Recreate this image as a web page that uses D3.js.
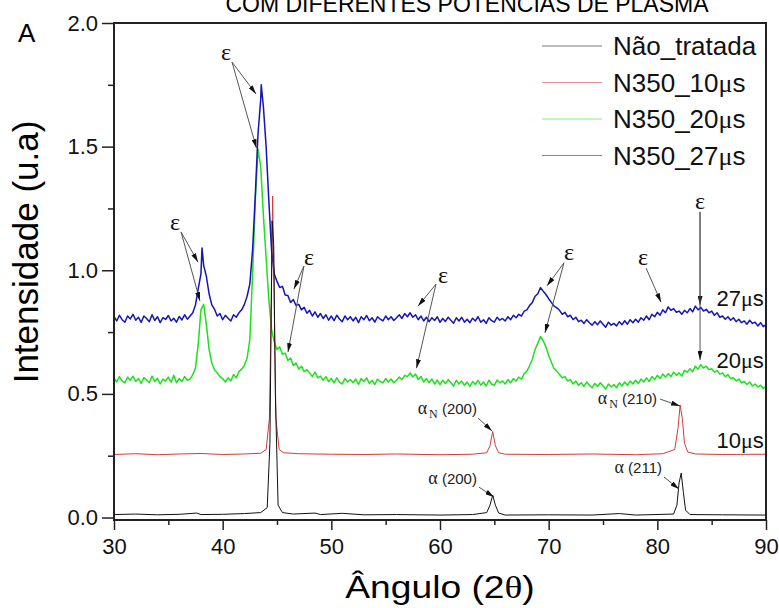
<!DOCTYPE html>
<html>
<head>
<meta charset="utf-8">
<script src="https://cdn.jsdelivr.net/npm/d3@7"></script>
<style>
  body { margin: 0; background: #fff; }
  svg { display: block; }
</style>
</head>
<body>
<div id="chart"></div>
<script>
// ---- dados ----
const angleStart = 30, angleStep = 0.25;   // grade das séries ruidosas

// N350_27µs, um valor a cada 0.25° de 30 a 90
const blue27 = [
  0.812,0.795,0.818,0.800, 0.790,0.815,0.803,0.822, 0.798,0.810,0.789,0.815,
  0.805,0.792,0.820,0.797, 0.812,0.788,0.808,0.801, 0.817,0.795,0.806,0.790,
  0.813,0.799,0.820,0.802, 0.815,0.828,0.860,0.925, 0.985,1.020,0.975,0.905,
  0.860,0.842,0.815,0.825, 0.800,0.818,0.806,0.795, 0.820,0.810,0.828,0.840,
  0.862,0.895,0.945,1.080, 1.300,1.550,1.690,1.660, 1.500,1.280,1.080,0.985,
  0.955,0.930,0.935,0.900, 0.898,0.870,0.882,0.858, 0.862,0.840,0.850,0.826,
  0.838,0.815,0.832,0.810, 0.825,0.805,0.820,0.798, 0.815,0.796,0.818,0.803,
  0.792,0.815,0.800,0.812, 0.795,0.810,0.788,0.812, 0.800,0.817,0.796,0.808,
  0.790,0.812,0.802,0.795, 0.815,0.800,0.812,0.797, 0.808,0.820,0.805,0.825,
  0.812,0.828,0.810,0.820, 0.800,0.815,0.795,0.810, 0.792,0.808,0.797,0.812,
  0.789,0.805,0.793,0.810, 0.798,0.786,0.808,0.795, 0.810,0.790,0.802,0.788,
  0.806,0.795,0.812,0.790, 0.800,0.785,0.808,0.796, 0.790,0.810,0.798,0.805,
  0.795,0.812,0.800,0.818, 0.808,0.822,0.815,0.835, 0.840,0.858,0.870,0.895,
  0.905,0.930,0.915,0.902, 0.885,0.870,0.855,0.848, 0.838,0.822,0.830,0.812,
  0.818,0.800,0.810,0.792, 0.798,0.785,0.800,0.788, 0.778,0.792,0.780,0.795,
  0.782,0.770,0.790,0.778, 0.785,0.775,0.792,0.780, 0.796,0.782,0.800,0.788,
  0.802,0.790,0.808,0.798, 0.815,0.800,0.822,0.812, 0.830,0.818,0.840,0.828,
  0.852,0.838,0.845,0.830, 0.835,0.822,0.838,0.828, 0.845,0.832,0.855,0.840,
  0.850,0.835,0.842,0.828, 0.835,0.818,0.828,0.810, 0.815,0.802,0.812,0.798,
  0.808,0.792,0.802,0.788, 0.795,0.782,0.798,0.785, 0.790,0.775,0.788,0.772,
  0.780
];
const blue27Spikes = [[38.1, 1.09], [43.55, 1.75]];

// N350_20µs
const green20 = [
  0.565,0.548,0.570,0.552, 0.545,0.568,0.555,0.572, 0.550,0.562,0.542,0.566,
  0.556,0.545,0.572,0.550, 0.563,0.540,0.560,0.552, 0.568,0.547,0.575,0.545,
  0.562,0.550,0.570,0.555, 0.560,0.578,0.605,0.700, 0.840,0.862,0.780,0.680,
  0.625,0.598,0.585,0.570, 0.562,0.548,0.565,0.552, 0.578,0.565,0.590,0.600,
  0.615,0.645,0.720,0.980, 1.280,1.490,1.420,1.220, 1.050,0.880,0.760,0.710,
  0.680,0.690,0.660,0.665, 0.635,0.645,0.615,0.625, 0.600,0.612,0.590,0.598,
  0.585,0.570,0.588,0.565, 0.572,0.555,0.570,0.550, 0.562,0.545,0.565,0.548,
  0.540,0.562,0.548,0.558, 0.545,0.560,0.538,0.562, 0.550,0.565,0.542,0.555,
  0.538,0.560,0.550,0.545, 0.562,0.548,0.560,0.545, 0.555,0.568,0.558,0.575,
  0.570,0.585,0.568,0.580, 0.558,0.570,0.548,0.562, 0.545,0.560,0.540,0.556,
  0.538,0.555,0.542,0.558, 0.545,0.532,0.555,0.540, 0.552,0.535,0.548,0.530,
  0.550,0.538,0.555,0.535, 0.548,0.532,0.555,0.540, 0.535,0.556,0.545,0.552,
  0.540,0.558,0.545,0.562, 0.552,0.568,0.560,0.582, 0.592,0.615,0.640,0.680,
  0.705,0.732,0.715,0.690, 0.655,0.628,0.602,0.592, 0.578,0.565,0.570,0.552,
  0.558,0.540,0.552,0.535, 0.545,0.530,0.548,0.535, 0.525,0.542,0.530,0.545,
  0.532,0.520,0.540,0.528, 0.538,0.525,0.545,0.532, 0.548,0.535,0.552,0.540,
  0.555,0.542,0.560,0.548, 0.565,0.550,0.570,0.558, 0.575,0.562,0.580,0.568,
  0.582,0.570,0.588,0.575, 0.585,0.572,0.595,0.588, 0.602,0.590,0.612,0.600,
  0.618,0.605,0.612,0.598, 0.602,0.588,0.595,0.580, 0.585,0.570,0.578,0.562,
  0.565,0.552,0.560,0.545, 0.550,0.538,0.548,0.532, 0.540,0.528,0.535,0.522,
  0.530
];

// N350_10µs [ângulo, intensidade]
const red10 = [
  [30,0.255],[32,0.258],[34,0.254],[36,0.257],[38,0.259],[40,0.255],[42,0.257],
  [43.5,0.26],[44.0,0.275],[44.3,0.40],[44.5,0.95],[44.6,1.30],[44.7,1.00],
  [44.9,0.40],[45.2,0.275],[45.6,0.262],[47,0.258],[50,0.256],[53,0.255],
  [56,0.257],[60,0.254],[63,0.256],[64.3,0.262],[64.6,0.29],[64.85,0.348],
  [65.1,0.29],[65.4,0.262],[66,0.256],[70,0.255],[74,0.257],[78,0.254],
  [80.5,0.258],[81.6,0.275],[81.9,0.36],[82.1,0.455],[82.3,0.40],[82.5,0.30],
  [82.8,0.265],[83.5,0.257],[86,0.255],[90,0.256]
];

// Não_tratada
const black0 = [
  [30,0.012],[32,0.014],[34,0.011],[36,0.013],[37.6,0.018],[38,0.012],[40,0.013],
  [42,0.016],[43.5,0.02],[44.1,0.04],[44.35,0.30],[44.55,1.20],[44.7,1.10],
  [44.85,0.50],[45.1,0.05],[45.5,0.02],[46.5,0.014],[48.5,0.018],[49,0.012],
  [51,0.017],[53,0.011],[56,0.012],[60,0.010],[63,0.012],[64.3,0.02],[64.6,0.05],
  [64.85,0.09],[65.1,0.05],[65.4,0.018],[66,0.010],[70,0.011],[74,0.010],
  [76.5,0.016],[78,0.010],[81.5,0.014],[81.8,0.05],[82.0,0.14],[82.2,0.18],
  [82.4,0.10],[82.6,0.03],[83,0.012],[86,0.011],[90,0.010]
];

const legendNames = ["Não_tratada", "N350_10", "N350_20", "N350_27"];
const xMajor = [30, 40, 50, 60, 70, 80, 90];
const xMinor = [35, 45, 55, 65, 75, 85];
const yMajor = [0, 0.5, 1.0, 1.5, 2.0];
const yMinor = [0.25, 0.75, 1.25, 1.75];

// rótulos ε: posição do símbolo e setas [de ângulo, de I, para ângulo, para I]
const epsLabels = [[40.31,1.883],[35.61,1.195],[47.94,1.054],[60.28,0.981],[71.87,1.074],[78.68,1.054],[83.93,1.28]];
const epsArrows = [
  [40.86,1.842,43.07,1.713],[40.86,1.842,43.11,1.494],
  [36.17,1.155,37.73,1.033],[36.17,1.155,37.91,0.876],
  [47.48,1.017,46.56,0.924],[47.48,1.017,46.01,0.669],
  [59.63,0.944,57.98,0.855],[59.63,0.944,57.84,0.604],
  [71.41,1.030,69.85,0.937],[71.41,1.030,69.66,0.747],
  [78.96,1.009,80.34,0.871],
  [83.93,1.236,83.93,0.860],[83.93,1.236,83.93,0.637]
];
// rótulos α
const alphaLabels = [
  {sub: "N", hkl: "(200)", at: [63.40,0.419], from: [63.50,0.4025], to: [64.79,0.350]},
  {sub: "N", hkl: "(210)", at: [79.97,0.459], from: [80.25,0.479], to: [82.09,0.451]},
  {sub: "",  hkl: "(200)", at: [63.40,0.136], from: [63.59,0.123], to: [64.97,0.083]},
  {sub: "",  hkl: "(211)", at: [80.43,0.180], from: [80.61,0.164], to: [81.99,0.115]}
];
const endLabels = [["27", 0.855], ["20", 0.605], ["10", 0.282]];

// ---- gráfico ----
const width = 779, height = 608;
const sans = "'Liberation Sans', Arial, sans-serif";
const serif = "'Liberation Serif', 'Times New Roman', serif";
const colors = ["#111111", "#d23c3c", "#1ee01e", "#1414bb"];

const x = d3.scaleLinear().domain([30, 90]).range([114, 766]);
const y = d3.scaleLinear().domain([-0.01, 2.0]).range([520, 23]);

const svg = d3.select("#chart").append("svg")
    .attr("width", width).attr("height", height)
    .style("font-family", sans);

svg.append("defs").append("clipPath").attr("id", "plot")
  .append("rect").attr("x", 114).attr("y", 23).attr("width", 652).attr("height", 497);

const marker = svg.select("defs").append("marker")
    .attr("id", "arrow").attr("viewBox", "0 0 9 5")
    .attr("refX", 9).attr("refY", 2.5)
    .attr("markerWidth", 9).attr("markerHeight", 5)
    .attr("markerUnits", "userSpaceOnUse")
    .attr("orient", "auto");
marker.append("path").attr("d", "M0,0L9,2.5L0,5Z").attr("fill", "#111");

// título (cortado no topo, como no original)
svg.append("text")
    .attr("x", 467).attr("y", 12)
    .attr("text-anchor", "middle")
    .style("font-size", "23px")
    .text("COM DIFERENTES POTENCIAS DE PLASMA");

svg.append("text")
    .attr("x", 18).attr("y", 42)
    .style("font-size", "26px")
    .text("A");

const toPts = vals => vals.map((v, i) => [angleStart + i * angleStep, v]);
const series = [
  black0,
  red10,
  toPts(green20),
  toPts(blue27).concat(blue27Spikes).sort((a, b) => a[0] - b[0])
];

const line = d3.line().x(d => x(d[0])).y(d => y(d[1]));
const g = svg.append("g").attr("clip-path", "url(#plot)");
// ordem de desenho: verde, azul, vermelho, preto
[2, 3, 1, 0].forEach(k => {
  g.append("path")
    .datum(series[k])
    .attr("fill", "none")
    .attr("stroke", colors[k])
    .attr("stroke-width", k >= 2 ? 1.5 : 1)
    .attr("stroke-linejoin", "round")
    .attr("d", line);
});

// eixos
svg.append("g").attr("transform", "translate(0,520)")
    .call(d3.axisBottom(x).tickValues(xMajor).tickSize(10).tickSizeOuter(0).tickPadding(8).tickFormat(d3.format("d")));
svg.append("g").attr("transform", "translate(0,520)")
    .call(d3.axisBottom(x).tickValues(xMinor).tickSize(5).tickSizeOuter(0).tickFormat(""));
svg.append("g").attr("transform", "translate(114,0)")
    .call(d3.axisLeft(y).tickValues(yMajor).tickSize(12).tickSizeOuter(0).tickPadding(4).tickFormat(d3.format(".1f")));
svg.append("g").attr("transform", "translate(114,0)")
    .call(d3.axisLeft(y).tickValues(yMinor).tickSize(6).tickSizeOuter(0).tickFormat(""));

svg.selectAll(".tick line").attr("stroke", "#222").attr("stroke-width", 1.5);
svg.selectAll(".domain").remove();
svg.selectAll(".tick text").attr("fill", "#111").style("font-family", sans).style("font-size", "22px");

svg.append("rect")
    .attr("x", 114).attr("y", 23).attr("width", 652).attr("height", 497)
    .attr("fill", "none").attr("stroke", "#222").attr("stroke-width", 2);

// títulos dos eixos
svg.append("text")
    .attr("transform", "translate(38,252) rotate(-90)")
    .attr("text-anchor", "middle")
    .style("font-size", "35px")
    .text("Intensidade (u.a)");

const xt = svg.append("text")
    .attr("transform", "translate(440,598) scale(1.2,1)")
    .attr("text-anchor", "middle")
    .style("font-size", "31px");
xt.append("tspan").text("Ângulo (2");
xt.append("tspan").style("font-family", serif).text("θ");
xt.append("tspan").text(")");

// legenda
legendNames.forEach((name, i) => {
  const ly = 46 + i * 36.5;
  svg.append("line")
    .attr("x1", 542).attr("x2", 602).attr("y1", ly).attr("y2", ly)
    .attr("stroke", colors[i]).attr("stroke-width", 1).attr("opacity", 0.55);
  const t = svg.append("text")
    .attr("x", 613).attr("y", ly + 9)
    .style("font-size", "26px")
    .attr("fill", "#111");
  t.append("tspan").text(name);
  if (i > 0) {
    t.append("tspan").style("font-family", serif).text("μ");
    t.append("tspan").text("s");
  }
});

// setas e rótulos ε
svg.append("g").selectAll("line")
  .data(epsArrows)
  .join("line")
    .attr("x1", d => x(d[0])).attr("y1", d => y(d[1]))
    .attr("x2", d => x(d[2])).attr("y2", d => y(d[3]))
    .attr("stroke", "#555").attr("stroke-width", 1)
    .attr("marker-end", "url(#arrow)");

svg.append("g").selectAll("text")
  .data(epsLabels)
  .join("text")
    .attr("x", d => x(d[0])).attr("y", d => y(d[1]))
    .attr("text-anchor", "middle")
    .attr("dominant-baseline", "central")
    .style("font-family", serif)
    .style("font-size", "24px")
    .attr("fill", "#111")
    .text("ε");

// rótulos α
alphaLabels.forEach(a => {
  svg.append("line")
    .attr("x1", x(a.from[0])).attr("y1", y(a.from[1]))
    .attr("x2", x(a.to[0])).attr("y2", y(a.to[1]))
    .attr("stroke", "#555").attr("stroke-width", 1)
    .attr("marker-end", "url(#arrow)");
  const t = svg.append("text")
    .attr("x", x(a.at[0])).attr("y", y(a.at[1]))
    .attr("text-anchor", "end")
    .attr("fill", "#222")
    .style("font-size", "15px");
  t.append("tspan").style("font-family", serif).style("font-size", "18px").text("α");
  if (a.sub) {
    t.append("tspan").style("font-family", serif).style("font-size", "12px").attr("dy", 4).attr("dx", 2).text(a.sub);
    t.append("tspan").attr("dy", -4).text(" " + a.hkl);
  } else {
    t.append("tspan").text(" " + a.hkl);
  }
});

// rótulos no fim das curvas
endLabels.forEach(([num, v]) => {
  const t = svg.append("text")
    .attr("x", x(89.8)).attr("y", y(v))
    .attr("text-anchor", "end")
    .attr("fill", "#111")
    .style("font-size", "22px");
  t.append("tspan").text(num);
  t.append("tspan").style("font-family", serif).text("μ");
  t.append("tspan").text("s");
});
</script>
</body>
</html>
